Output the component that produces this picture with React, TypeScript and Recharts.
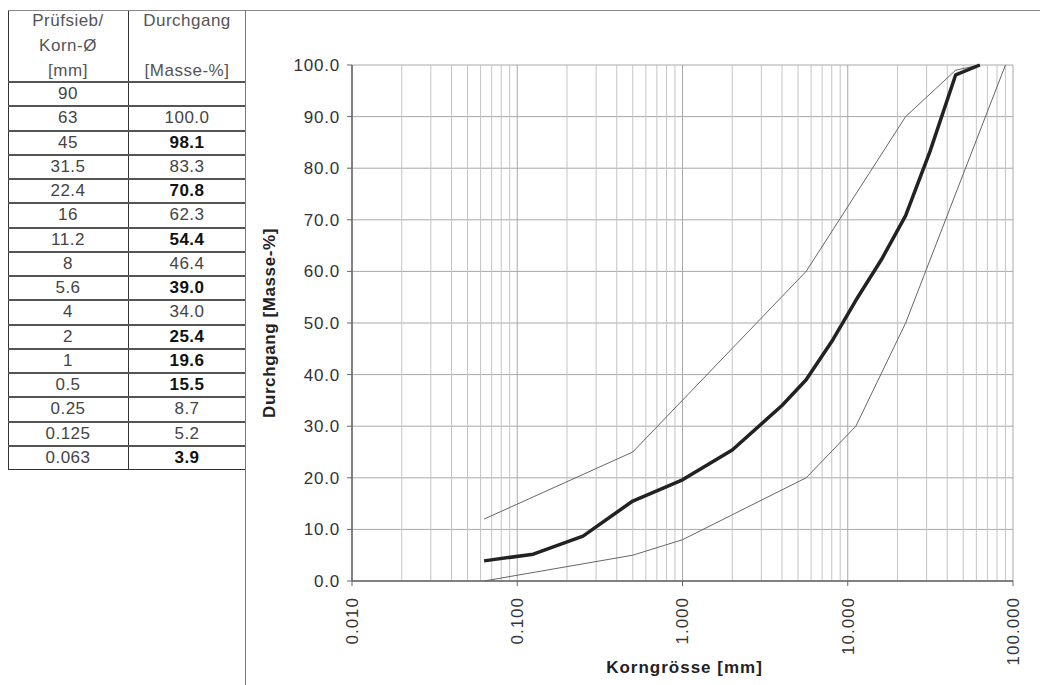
import { LineChart, Line, XAxis, YAxis, CartesianGrid, ReferenceLine } from 'recharts';

// sieve table (top to bottom, as printed)
const sieveLabels = ['90', '63', '45', '31.5', '22.4', '16', '11.2', '8', '5.6', '4', '2', '1', '0.5', '0.25', '0.125', '0.063'];
const sieveSizes = [90, 63, 45, 31.5, 22.4, 16, 11.2, 8, 5.6, 4, 2, 1, 0.5, 0.25, 0.125, 0.063];
const passing: (number | null)[] = [null, 100.0, 98.1, 83.3, 70.8, 62.3, 54.4, 46.4, 39.0, 34.0, 25.4, 19.6, 15.5, 8.7, 5.2, 3.9];
const boldRows = [false, false, true, false, true, false, true, false, true, false, true, true, true, false, false, true];

// grading envelope
const upperSizes = [0.063, 0.5, 5.6, 22.4, 45, 63];
const upperValues = [12, 25, 60, 90, 99, 100];
const lowerSizes = [0.063, 0.5, 1, 5.6, 11.2, 22.4, 90];
const lowerValues = [0, 5, 8, 20, 30, 50, 100];

const xTicks = [0.01, 0.1, 1, 10, 100];
const yTicks = [0, 10, 20, 30, 40, 50, 60, 70, 80, 90, 100];
const minorMultipliers = [2, 3, 4, 5, 6, 7, 8, 9];
const minorGrid = xTicks.slice(0, -1).flatMap((d) => minorMultipliers.map((m) => +(m * d).toPrecision(3)));

const mainData = sieveSizes
  .map((size, i) => ({ size, value: passing[i] }))
  .filter((d) => d.value !== null)
  .sort((a, b) => a.size - b.size);
const upperData = upperSizes.map((size, i) => ({ size, value: upperValues[i] }));
const lowerData = lowerSizes.map((size, i) => ({ size, value: lowerValues[i] }));

const FONT = '"Liberation Sans", Arial, sans-serif';
const TABLE_LEFT = 8;
const COL_SPLIT = 128;
const TABLE_RIGHT = 246;
const TABLE_TOP = 10;
const HEADER_BOTTOM = 82;
const ROW_H = 24.25;

function XTick({ x, y, payload }: any) {
  const ty = y + 9;
  return (
    <text
      x={x}
      y={ty}
      transform={`rotate(-90, ${x}, ${ty})`}
      textAnchor="end"
      dy="0.35em"
      fontSize={17}
      letterSpacing={1}
      fill="#333"
      fontFamily={FONT}
    >
      {payload.value.toFixed(3)}
    </text>
  );
}

function YTitle({ viewBox }: any) {
  const x = viewBox.x + 1;
  const y = viewBox.y + viewBox.height / 2;
  return (
    <text
      x={x}
      y={y}
      transform={`rotate(-90, ${x}, ${y})`}
      textAnchor="middle"
      dy="0.35em"
      fontSize={17}
      fontWeight="bold"
      letterSpacing={0.6}
      fill="#222"
      fontFamily={FONT}
    >
      Durchgang [Masse-%]
    </text>
  );
}

function XTitle({ viewBox }: any) {
  return (
    <text
      x={viewBox.x + viewBox.width / 2 + 2}
      y={viewBox.y + 92}
      textAnchor="middle"
      fontSize={17}
      fontWeight="bold"
      letterSpacing={1}
      fill="#222"
      fontFamily={FONT}
    >
      Korngrösse [mm]
    </text>
  );
}

function SieveTable() {
  const cell = { position: 'absolute' as const, textAlign: 'center' as const, fontSize: 17, letterSpacing: 0.5 };
  return (
    <>
      <div style={{ position: 'absolute', left: TABLE_LEFT, top: TABLE_TOP, width: TABLE_RIGHT - TABLE_LEFT, height: HEADER_BOTTOM - TABLE_TOP + 16 * ROW_H, border: '1px solid #333', boxSizing: 'border-box' }} />
      <div style={{ position: 'absolute', left: COL_SPLIT, top: TABLE_TOP, width: 1, height: HEADER_BOTTOM - TABLE_TOP + 16 * ROW_H, background: '#333' }} />
      <div style={{ ...cell, left: TABLE_LEFT, width: COL_SPLIT - TABLE_LEFT, top: TABLE_TOP - 2, lineHeight: '25px', color: '#555' }}>
        Prüfsieb/<br />Korn-Ø<br />[mm]
      </div>
      <div style={{ ...cell, left: COL_SPLIT, width: TABLE_RIGHT - COL_SPLIT, top: TABLE_TOP - 2, lineHeight: '25px', color: '#555' }}>
        Durchgang<br /><br />[Masse-%]
      </div>
      {sieveLabels.map((label, i) => {
        const top = HEADER_BOTTOM + i * ROW_H;
        const v = passing[i];
        return (
          <div key={label}>
            <div style={{ position: 'absolute', left: TABLE_LEFT, top: top - 1, width: TABLE_RIGHT - TABLE_LEFT, height: 2, background: '#555' }} />
            <div style={{ ...cell, left: TABLE_LEFT, width: COL_SPLIT - TABLE_LEFT, top, height: ROW_H, lineHeight: `${ROW_H}px`, color: '#444' }}>
              {label}
            </div>
            <div
              style={{
                ...cell,
                left: COL_SPLIT,
                width: TABLE_RIGHT - COL_SPLIT,
                top,
                height: ROW_H,
                lineHeight: `${ROW_H}px`,
                color: boldRows[i] ? '#111' : '#444',
                fontWeight: boldRows[i] ? 'bold' : 'normal',
              }}
            >
              {v === null ? '' : v.toFixed(1)}
            </div>
          </div>
        );
      })}
    </>
  );
}

export default function App() {
  return (
    <div style={{ position: 'fixed', left: 0, top: 0, width: 1040, height: 685, background: '#fff', fontFamily: FONT, overflow: 'hidden' }}>
      <SieveTable />
      <div style={{ position: 'absolute', left: TABLE_LEFT, top: TABLE_TOP, width: 1040 - TABLE_LEFT, height: 1, background: '#888' }} />
      <div style={{ position: 'absolute', left: TABLE_RIGHT - 1, top: TABLE_TOP, width: 1, height: 685 - TABLE_TOP, background: '#777' }} />
      <div style={{ position: 'absolute', left: TABLE_RIGHT, top: TABLE_TOP }}>
        <LineChart width={794} height={675} margin={{ top: 55, right: 27, bottom: 4, left: 22 }}>
          <CartesianGrid stroke="#a8a8a8" strokeWidth={1} />
          {minorGrid.map((v) => (
            <ReferenceLine key={v} x={v} stroke="#c4c4c4" strokeWidth={1} />
          ))}
          <XAxis
            dataKey="size"
            type="number"
            scale="log"
            domain={[0.01, 100]}
            ticks={xTicks}
            allowDataOverflow
            height={100}
            tickSize={5}
            tick={<XTick />}
            axisLine={{ stroke: '#666', strokeWidth: 1.5 }}
            tickLine={{ stroke: '#666' }}
            label={<XTitle />}
          />
          <YAxis
            type="number"
            domain={[0, 100]}
            ticks={yTicks}
            width={84}
            tickSize={5}
            tickMargin={7}
            tickFormatter={(v: number) => v.toFixed(1)}
            tick={{ fontSize: 17, fill: '#333', fontFamily: FONT, letterSpacing: 0.8 }}
            axisLine={{ stroke: '#666', strokeWidth: 1.5 }}
            tickLine={{ stroke: '#666' }}
            label={<YTitle />}
          />
          <Line data={upperData} dataKey="value" type="linear" stroke="#666" strokeWidth={1} dot={false} isAnimationActive={false} />
          <Line data={lowerData} dataKey="value" type="linear" stroke="#666" strokeWidth={1} dot={false} isAnimationActive={false} />
          <Line data={mainData} dataKey="value" type="linear" stroke="#222" strokeWidth={3.5} strokeLinejoin="round" dot={false} isAnimationActive={false} />
        </LineChart>
      </div>
    </div>
  );
}
